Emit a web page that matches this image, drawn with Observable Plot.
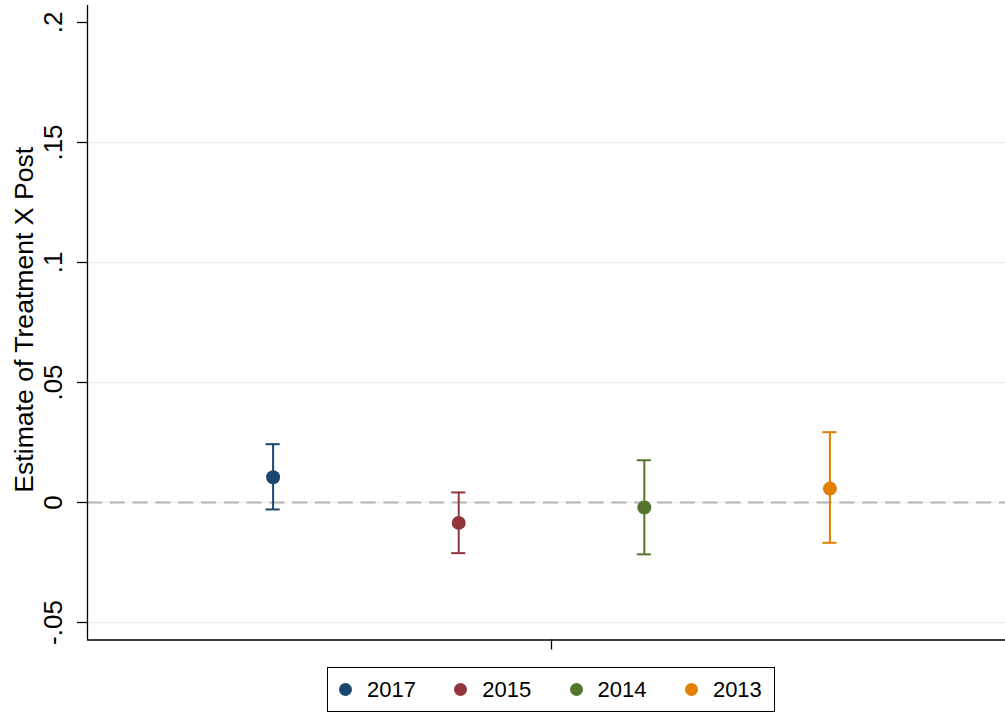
<!DOCTYPE html>
<html>
<head>
<meta charset="utf-8">
<script src="https://cdn.jsdelivr.net/npm/d3@7"></script>
<script src="https://cdn.jsdelivr.net/npm/@observablehq/plot@0.6"></script>
<style>
  html, body { margin: 0; padding: 0; background: #ffffff; }
  body { width: 1005px; height: 713px; position: relative; overflow: hidden;
         font-family: "Liberation Sans", Arial, Helvetica, sans-serif; }
  #chart { position: absolute; left: 0; top: 0; }
  #legend { position: absolute; left: 327px; top: 667px; width: 448px; height: 45px;
            box-sizing: border-box; border: 1.3px solid #000; display: flex; align-items: center;
            padding-left: 11px; }
  .item { width: 115.3px; display: flex; align-items: center; flex: none; }
  .sw { width: 13px; height: 13px; border-radius: 50%; margin-right: 15px; flex: none; }
  .lab { font-size: 22px; color: #000; line-height: 1; }
</style>
</head>
<body>
<div id="chart"></div>
<div id="legend"></div>
<script>
// ---- data ----
const years = ["2017", "2015", "2014", "2013"];
const estimate = [0.0105, -0.0085, -0.0021, 0.0058];
const ciLow = [-0.0029, -0.0211, -0.0216, -0.0168];
const ciHigh = [0.0243, 0.0042, 0.0176, 0.0293];
const colors = ["#1a476f", "#90353b", "#55752f", "#e37e00"];
const yTicks = [-0.05, 0, 0.05, 0.1, 0.15, 0.2];
const yTickLabels = ["-.05", "0", ".05", ".1", ".15", ".2"];
const gridValues = [-0.05, 0, 0.05, 0.1, 0.15];
const yTitle = "Estimate of Treatment X Post";

const data = years.map((y, i) => ({year: y, pos: i + 1, est: estimate[i], lo: ciLow[i], hi: ciHigh[i]}));
const yDomain = [-0.05729, 0.20708];
const xDomain = [0, 4.946];
const capHalf = 0.038;

const plot = Plot.plot({
  width: 1005,
  height: 656,
  marginLeft: 87,
  marginRight: 0,
  marginTop: 5,
  marginBottom: 16.5,
  style: {fontFamily: '"Liberation Sans", Arial, Helvetica, sans-serif', background: "#ffffff", color: "#000"},
  x: {domain: xDomain},
  y: {domain: yDomain},
  color: {domain: years, range: colors},
  marks: [
    Plot.ruleY(gridValues, {stroke: "#eaf2f3", strokeWidth: 1.5}),
    Plot.ruleY([0], {stroke: "#b3b3b3", strokeWidth: 2, strokeDasharray: "15,7.8"}),
    Plot.ruleX(data, {x: "pos", y1: "lo", y2: "hi", stroke: "year", strokeWidth: 2}),
    Plot.ruleY(data, {y: "hi", x1: d => d.pos - capHalf, x2: d => d.pos + capHalf, stroke: "year", strokeWidth: 2}),
    Plot.ruleY(data, {y: "lo", x1: d => d.pos - capHalf, x2: d => d.pos + capHalf, stroke: "year", strokeWidth: 2}),
    Plot.dot(data, {x: "pos", y: "est", r: 7, fill: "year", stroke: "none"}),
    Plot.ruleX([xDomain[0]], {stroke: "#000", strokeWidth: 1.3}),
    Plot.ruleY([yDomain[0]], {stroke: "#000", strokeWidth: 1.3}),
    Plot.axisY({ticks: yTicks, tickSize: 10, tickFormat: () => "", label: null, strokeWidth: 1.3}),
    Plot.axisX({ticks: [2.5], tickSize: 10, tickFormat: () => "", label: null, strokeWidth: 1.3}),
    Plot.text(yTicks, {y: d => d, text: (d, i) => yTickLabels[i], frameAnchor: "left", dx: -26,
      rotate: -90, lineAnchor: "bottom", textAnchor: "middle", fontSize: 26, fill: "#000"}),
    Plot.text([yTitle], {text: d => d, frameAnchor: "left", dx: -54.5, dy: -3, rotate: -90,
      lineAnchor: "bottom", textAnchor: "middle", fontSize: 26.6, fill: "#000"})
  ]
});
document.getElementById("chart").appendChild(plot);

const legend = document.getElementById("legend");
years.forEach((y, i) => {
  const item = document.createElement("div");
  item.className = "item";
  const sw = document.createElement("div");
  sw.className = "sw";
  sw.style.background = colors[i];
  const lab = document.createElement("span");
  lab.className = "lab";
  lab.textContent = y;
  item.appendChild(sw);
  item.appendChild(lab);
  legend.appendChild(item);
});
</script>
</body>
</html>
